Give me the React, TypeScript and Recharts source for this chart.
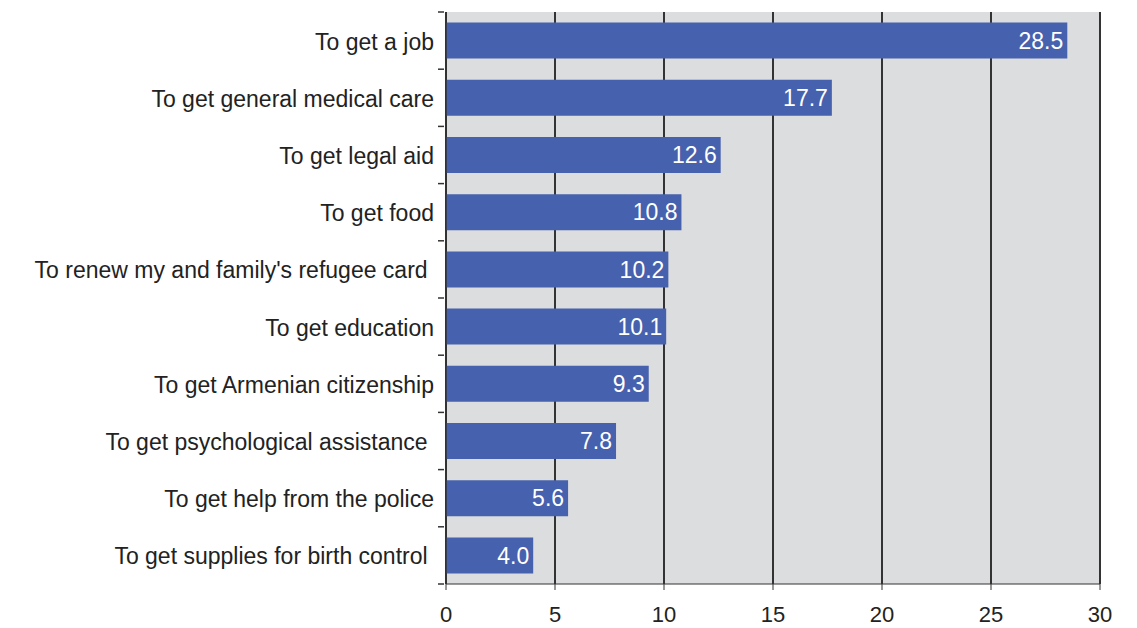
import { BarChart, Bar, XAxis, YAxis, CartesianGrid, LabelList } from 'recharts';

// Reasons for seeking help, % of respondents
const reasons = [
  'To get a job',
  'To get general medical care',
  'To get legal aid',
  'To get food',
  "To renew my and family's refugee card ",
  'To get education',
  'To get Armenian citizenship',
  'To get psychological assistance ',
  'To get help from the police',
  'To get supplies for birth control ',
];
const shares = [28.5, 17.7, 12.6, 10.8, 10.2, 10.1, 9.3, 7.8, 5.6, 4.0];
const xTicks = [0, 5, 10, 15, 20, 25, 30];

const data = reasons.map((reason, i) => ({ reason, share: shares[i] }));

const W = 1137;
const H = 628;
const AXIS_H = 44;
const M = { top: 12, right: 37, bottom: 0, left: 0 };
const band = (H - M.top - AXIS_H) / reasons.length;
const font = 'Liberation Sans, Arial, sans-serif';

function CategoryTick(props: any) {
  const { x, y, payload, index } = props;
  const top = y - band / 2;
  return (
    <g>
      <line x1={x} x2={x + 6} y1={top} y2={top} stroke="#333" strokeWidth={1.5} />
      {index === reasons.length - 1 && (
        <line x1={x} x2={x + 6} y1={top + band} y2={top + band} stroke="#333" strokeWidth={1.5} />
      )}
      <text x={x - 4} y={y + 1} dy="0.35em" textAnchor="end" fill="#222" fontSize={23} fontFamily={font} style={{ whiteSpace: 'pre' }}>
        {payload.value}
      </text>
    </g>
  );
}

export default function App() {
  return (
    <div style={{ position: 'absolute', left: 0, top: 0, background: '#fff' }}>
      <BarChart width={W} height={H} data={data} layout="vertical" margin={M} barCategoryGap={10.6}>
        <CartesianGrid horizontal={false} fill="#dcdddf" stroke="#333" strokeWidth={2} />
        <XAxis
          type="number"
          domain={[0, 30]}
          ticks={xTicks}
          tickSize={6}
          tickMargin={16}
          stroke="#333"
          tick={{ fill: '#222', fontSize: 22, fontFamily: font }}
          height={AXIS_H}
        />
        <XAxis xAxisId="top" orientation="top" type="number" domain={[0, 30]} tick={false} tickLine={false} height={0} stroke="#555" strokeWidth={1.5} />
        <YAxis
          type="category"
          dataKey="reason"
          width={446}
          tickLine={false}
          stroke="#333"
          strokeWidth={1.5}
          interval={0}
          tick={<CategoryTick />}
        />
        <Bar dataKey="share" fill="#4661ad" isAnimationActive={false}>
          <LabelList
            dataKey="share"
            position="insideRight"
            offset={4}
            formatter={(v: any) => Number(v).toFixed(1)}
            fill="#fff"
            fontSize={23}
            fontFamily={font}
          />
        </Bar>
      </BarChart>
    </div>
  );
}
